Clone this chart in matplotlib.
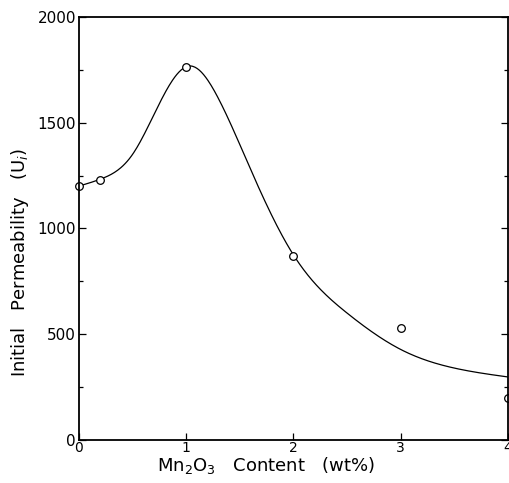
import matplotlib
matplotlib.use("Agg")
import matplotlib.pyplot as plt
import numpy as np
from matplotlib.ticker import MultipleLocator

# measured permeability vs Mn2O3 addition
mn2o3_wt = [0.0, 0.2, 1.0, 2.0, 3.0, 4.0]
permeability = [1200, 1230, 1765, 870, 530, 200]

# hand-drawn trend curve through the data
curve_x = [0.0, 0.2, 0.5, 0.75, 1.03, 1.3, 1.6, 2.0, 2.5, 3.0, 3.5, 4.0]
curve_y = [1200, 1233, 1350, 1590, 1768, 1615, 1280, 875, 600, 428, 340, 298]


def natural_spline(x, y, xs):
    """Natural cubic spline through (x, y), evaluated at xs."""
    x = np.asarray(x, float)
    y = np.asarray(y, float)
    n = len(x)
    h = np.diff(x)
    A = np.zeros((n, n))
    b = np.zeros(n)
    A[0, 0] = A[-1, -1] = 1.0
    for i in range(1, n - 1):
        A[i, i - 1] = h[i - 1]
        A[i, i] = 2 * (h[i - 1] + h[i])
        A[i, i + 1] = h[i]
        b[i] = 6 * ((y[i + 1] - y[i]) / h[i] - (y[i] - y[i - 1]) / h[i - 1])
    m = np.linalg.solve(A, b)
    idx = np.clip(np.searchsorted(x, xs) - 1, 0, n - 2)
    t0 = x[idx + 1] - xs
    t1 = xs - x[idx]
    hi = h[idx]
    return (m[idx] * t0 ** 3 / (6 * hi) + m[idx + 1] * t1 ** 3 / (6 * hi)
            + (y[idx] / hi - m[idx] * hi / 6) * t0
            + (y[idx + 1] / hi - m[idx + 1] * hi / 6) * t1)


plt.rcParams['font.family'] = ['DejaVu Sans']

fig = plt.figure(figsize=(5.09, 4.83), dpi=100)
ax = fig.add_axes([0.155, 0.089, 0.843, 0.876])

xs = np.linspace(0, 4, 400)
ax.plot(xs, natural_spline(curve_x, curve_y, xs), color='black', lw=0.9)
ax.plot(mn2o3_wt, permeability, 'o', mfc='white', mec='black', ms=5.5,
        mew=0.9, clip_on=False)

ax.set_xlim(0, 4)
ax.set_ylim(0, 2000)
ax.xaxis.set_major_locator(MultipleLocator(1))
ax.yaxis.set_major_locator(MultipleLocator(500))
ax.yaxis.set_minor_locator(MultipleLocator(250))
ax.tick_params(which='both', direction='in', right=True, width=0.9)
ax.tick_params(which='major', length=5)
ax.tick_params(which='minor', length=3)
ax.tick_params(axis='x', pad=1, labelsize=10)
ax.tick_params(axis='y', pad=2, labelsize=11)
for s in ax.spines.values():
    s.set_linewidth(1.3)

ax.set_xlabel('Mn$_2$O$_3$   Content   (wt%)', fontsize=13)
ax.set_ylabel('Initial   Permeability   (U$_i$)', fontsize=13)
ax.xaxis.set_label_coords(0.436, -0.036)
ax.yaxis.set_label_coords(-0.112, 0.42)

fig.savefig('out.png', dpi=100)
